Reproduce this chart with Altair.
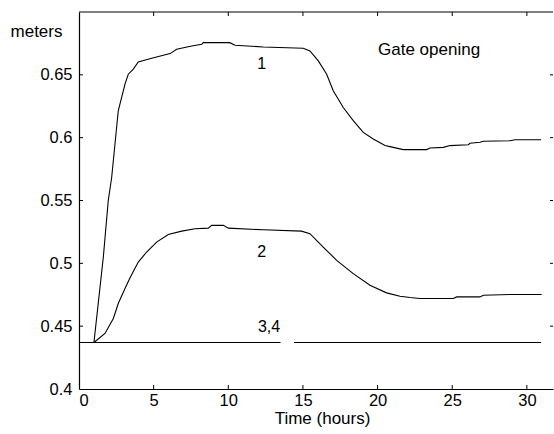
import altair as alt
import pandas as pd

# ---- data ----
t1 = [1.0, 1.63, 1.96, 2.19, 2.63, 3.08, 3.30, 3.64, 3.97, 4.87, 6.1, 6.54, 7.55, 8.22, 8.33,
      10.1, 10.45, 12.34, 15.02, 15.47, 16.03, 16.59, 17.03, 17.7, 18.37, 19.04, 19.71, 20.5,
      20.83, 21.72, 23.29, 23.5, 24.4, 24.85, 26.08, 26.19, 26.86, 27.08, 28.87, 29.2, 30.95]
v1 = [0.437, 0.505, 0.55, 0.5685, 0.6214, 0.6426, 0.6505, 0.6545, 0.6603, 0.6632, 0.6669, 0.6704,
      0.673, 0.6744, 0.6756, 0.6756, 0.6736, 0.6722, 0.6712, 0.669, 0.6611, 0.6505, 0.6373, 0.624,
      0.6135, 0.6042, 0.599, 0.5937, 0.5929, 0.5905, 0.5905, 0.5918, 0.5923, 0.5937, 0.5944, 0.5955,
      0.5963, 0.5971, 0.5976, 0.5984, 0.5984]

t2 = [1.0, 1.74, 2.3, 2.63, 3.08, 3.42, 3.97, 4.53, 5.2, 5.98, 6.88, 7.77, 8.66, 8.89, 9.67,
      10.0, 12.34, 14.9, 15.47, 16.36, 17.26, 18.37, 19.49, 20.6, 21.5, 22.17, 22.84, 25.07, 25.3,
      26.86, 27.08, 28.87, 30.99]
v2 = [0.437, 0.4442, 0.4561, 0.468, 0.4799, 0.4886, 0.501, 0.509, 0.5169, 0.523, 0.5256, 0.5275,
      0.528, 0.5302, 0.5302, 0.528, 0.5267, 0.5256, 0.5236, 0.5129, 0.5024, 0.4918, 0.4825, 0.4765,
      0.4738, 0.4728, 0.472, 0.472, 0.4733, 0.4733, 0.4746, 0.4752, 0.4752]

t34 = [0.0, 13.5, 14.4, 30.95]
v34 = [0.437, 0.437, 0.437, 0.437]
seg34 = ["3,4a", "3,4a", "3,4b", "3,4b"]

label_text = ["1", "2", "3,4"]
label_t = [12.24, 12.24, 12.73]
label_v = [0.6585, 0.509, 0.4494]

note_text = ["Gate opening"]
note_t = [20.03]
note_v = [0.6696]

x_ticks = [0, 5, 10, 15, 20, 25, 30]
y_ticks = [0.4, 0.45, 0.5, 0.55, 0.6, 0.65]
x_inner_ticks = [5, 10, 15, 20, 25, 30]
y_inner_ticks = [0.45, 0.5, 0.55, 0.6, 0.65]

W, H = 474, 377
FONT = "Liberation Sans"

lines = pd.concat([
    pd.DataFrame({"t": t1, "v": v1, "s": "1"}),
    pd.DataFrame({"t": t2, "v": v2, "s": "2"}),
    pd.DataFrame({"t": t34, "v": v34, "s": seg34}),
])

xs = alt.Scale(domain=[0, 31.75], nice=False, zero=False)
ys = alt.Scale(domain=[0.4, 0.7], nice=False, zero=False)

line_layer = alt.Chart(lines).mark_line(color="black", strokeWidth=1.1).encode(
    x=alt.X("t:Q", scale=xs, axis=alt.Axis(
        values=x_ticks, title="Time (hours)", ticks=False, domain=True,
        domainColor="black", domainWidth=1.2, labelPadding=3, labelFontSize=16.5,
        labelFont=FONT, labelColor="black", titleFont=FONT, titleFontSize=17,
        titleFontWeight="normal", titleColor="black", titleX=243, titleY=29,
        titleBaseline="middle", grid=False)),
    y=alt.Y("v:Q", scale=ys, axis=alt.Axis(
        values=y_ticks, title="meters", ticks=False, domain=True, format="~g",
        domainColor="black", domainWidth=1.2, labelPadding=7, labelFontSize=16.5,
        labelFont=FONT, labelColor="black", titleFont=FONT, titleFontSize=17,
        titleFontWeight="normal", titleColor="black", titleAngle=0,
        titleAlign="center", titleBaseline="middle", titleX=-43, titleY=19, grid=False)),
    detail="s:N",
)

labels = alt.Chart(pd.DataFrame({"t": label_t, "v": label_v, "txt": label_text})).mark_text(
    font=FONT, fontSize=16, color="black", align="center", baseline="middle"
).encode(x=alt.X("t:Q", scale=xs), y=alt.Y("v:Q", scale=ys), text="txt:N")

note = alt.Chart(pd.DataFrame({"t": note_t, "v": note_v, "txt": note_text})).mark_text(
    font=FONT, fontSize=17, color="black", align="left", baseline="middle"
).encode(x=alt.X("t:Q", scale=xs), y=alt.Y("v:Q", scale=ys), text="txt:N")

xt = pd.DataFrame({"t": x_inner_ticks})
yt = pd.DataFrame({"v": y_inner_ticks})

bottom_ticks = alt.Chart(xt).mark_rule(color="black", strokeWidth=1).encode(
    x=alt.X("t:Q", scale=xs), y=alt.value(H), y2=alt.value(H - 4))
top_ticks = alt.Chart(xt).mark_rule(color="black", strokeWidth=1).encode(
    x=alt.X("t:Q", scale=xs), y=alt.value(0), y2=alt.value(4))
left_ticks = alt.Chart(yt).mark_rule(color="black", strokeWidth=1).encode(
    y=alt.Y("v:Q", scale=ys), x=alt.value(0), x2=alt.value(4))
right_ticks = alt.Chart(yt).mark_rule(color="black", strokeWidth=1).encode(
    y=alt.Y("v:Q", scale=ys), x=alt.value(W - 3), x2=alt.value(W))
top_border = alt.Chart(pd.DataFrame({"k": [0]})).mark_rule(color="black", strokeWidth=1.2).encode(
    x=alt.value(0), x2=alt.value(W), y=alt.value(0))

chart = alt.layer(
    line_layer, labels, note, bottom_ticks, top_ticks, left_ticks, right_ticks, top_border
).properties(
    width=W, height=H,
    autosize=alt.AutoSizeParams(type="none"),
    padding={"left": 79, "top": 12, "right": 1, "bottom": 45},
    background="white",
).configure_view(stroke=None)

chart.save("out.html", embed_options={"renderer": "svg", "actions": False})
